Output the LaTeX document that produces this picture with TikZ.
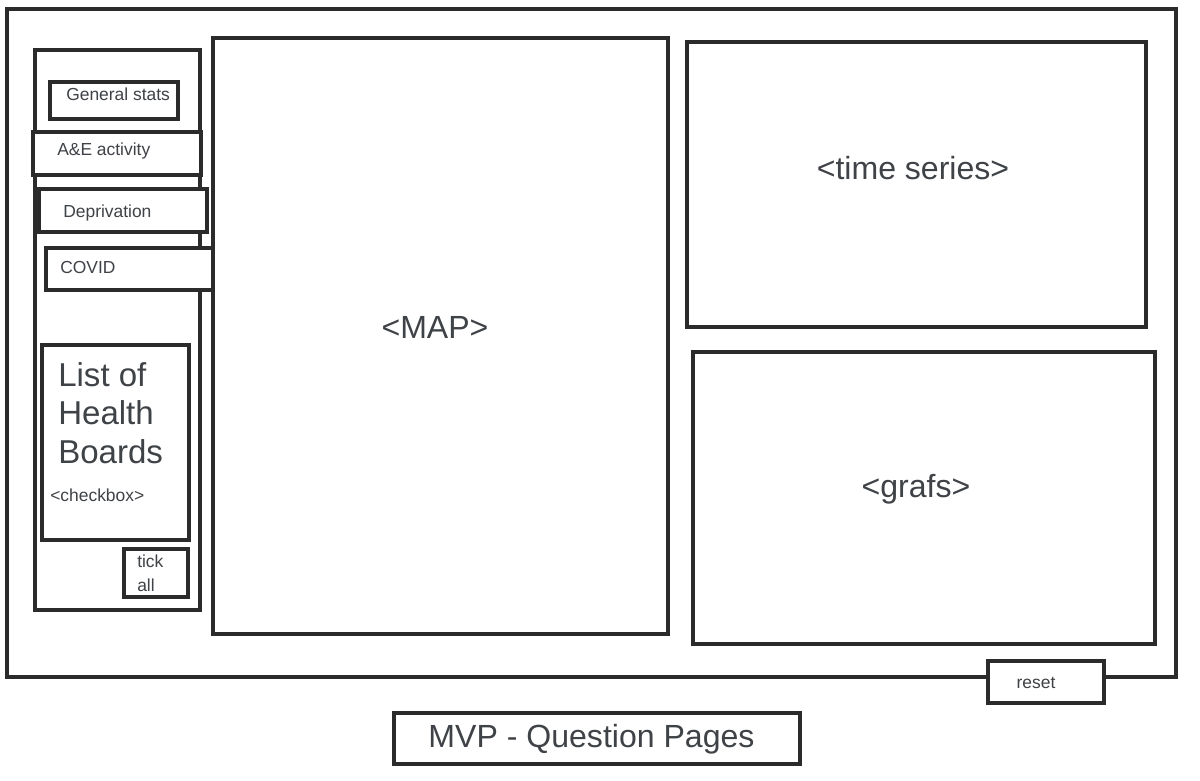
\documentclass[tikz,border=0pt]{standalone}
\usepackage{fontspec}
\setmainfont{Liberation Sans}
\usetikzlibrary{positioning}
\definecolor{ink}{HTML}{2B2B2B}
\definecolor{txt}{HTML}{3F4246}

\begin{document}
\begin{tikzpicture}[
  frame/.style={draw=ink, line width=2.6pt, fill=white, inner sep=0pt},
  menubox/.style={frame, minimum width=4.2cm, minimum height=1.075cm},
  small/.style={text=txt, inner sep=0pt, font=\fontsize{12.4}{17}\selectfont},
  big/.style={text=txt, inner sep=0pt, font=\fontsize{22.8}{27}\selectfont}
]
  \useasboundingbox (0,0) rectangle (30,-19.5);

  % page frame and side menu
  \node[frame, minimum width=29.225cm, minimum height=16.7cm] (page) at (14.79,-8.575) {};
  \node[frame, minimum width=4.125cm, minimum height=14cm] (side) at (2.9375,-8.25) {};

  \node[frame, minimum width=3.2cm, minimum height=0.925cm] (gen) at (2.85,-2.5125) {};
  \node[small, anchor=west] (genlbl) at (1.65,-2.35) {General stats};
  \node[menubox] (ae) at (2.925,-3.8375) {};
  \node[small, anchor=west] (aelbl) at (1.425,-3.775) {A\&E activity};
  \node[menubox] (dep) at (3.075,-5.2625) {};
  \node[small, anchor=west] (deplbl) at (1.575,-5.325) {Deprivation};
  \node[menubox, minimum height=1.05cm] (covid) at (3.25,-6.725) {};
  \node[small, anchor=west] (covidlbl) at (1.5,-6.675) {COVID};

  % health boards
  \node[frame, minimum width=3.675cm, minimum height=4.875cm] (boards) at (2.8875,-11.0625) {};
  \node[big, anchor=north west, align=left, font=\fontsize{23.5}{27.5}\selectfont] (boardslbl) at (1.45,-9.05)
    {List of\\Health\\Boards};
  \node[small, anchor=west] (check) at (1.25,-12.375) {<checkbox>};
  \node[frame, minimum width=1.6cm, minimum height=1.2cm] (tick) at (3.9,-14.325) {};
  \node[small, anchor=west, align=left] (ticklbl) at (3.425,-14.325) {tick\\all};

  % main panels
  \node[frame, minimum width=11.375cm, minimum height=14.9cm] (map) at (11.0125,-8.4) {};
  \node[big] (maplbl) at (10.875,-8.175) {<MAP>};
  \node[frame, minimum width=11.475cm, minimum height=7.125cm] (ts) at (22.9125,-4.6125) {};
  \node[big] (tslbl) at (22.825,-4.2) {<time series>};
  \node[frame, minimum width=11.55cm, minimum height=7.3cm] (grafs) at (23.1,-12.45) {};
  \node[big] (grafslbl) at (22.9,-12.225) {<grafs>};

  % reset button and title
  \node[frame, minimum width=2.9cm, minimum height=1.05cm] (reset) at (26.15,-17.05) {};
  \node[small] (resetlbl) at (25.9,-17.075) {reset};
  \node[frame, minimum width=10.15cm, minimum height=1.275cm] (title) at (14.925,-18.4625) {};
  \node[big] (titlelbl) at (14.7875,-18.475) {MVP - Question Pages};
\end{tikzpicture}
\end{document}
